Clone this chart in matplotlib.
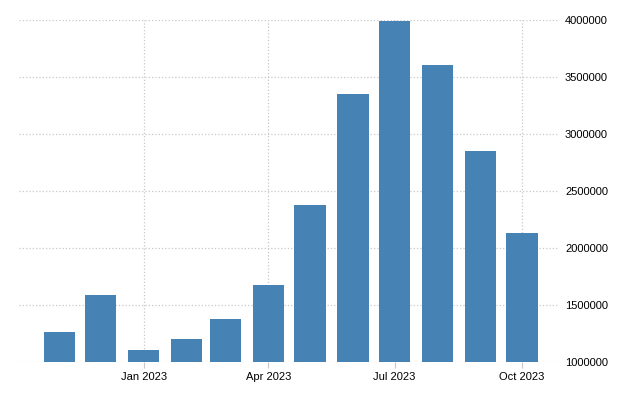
import matplotlib
matplotlib.use("Agg")
import matplotlib.pyplot as plt
import matplotlib.dates as mdates
import datetime as dt

# monthly values, Nov 2022 - Oct 2023
meses = ["2022-11", "2022-12", "2023-01", "2023-02", "2023-03", "2023-04",
         "2023-05", "2023-06", "2023-07", "2023-08", "2023-09", "2023-10"]
valores = [1263000, 1585000, 1103000, 1199000, 1375000, 1673000,
           2376000, 3350000, 3995000, 3605000, 2850000, 2130000]

datas = [dt.datetime.strptime(m, "%Y-%m") for m in meses]

plt.rcParams['font.family'] = ['Liberation Sans', 'DejaVu Sans']

fig = plt.figure(figsize=(6.4, 4.0), dpi=100)
ax = fig.add_axes([0.0297, 0.095, 0.8423, 0.855])

ax.bar(datas, valores, width=22.5, color='#4682b4', zorder=2)

ax.set_ylim(1000000, 4000000)
ax.set_xlim(dt.datetime(2022, 10, 3), dt.datetime(2023, 10, 27))
ax.set_yticks([1000000, 1500000, 2000000, 2500000, 3000000, 3500000, 4000000])
ax.yaxis.tick_right()
ax.yaxis.set_major_formatter(matplotlib.ticker.FuncFormatter(lambda v, p: "%d" % v))

ax.set_xticks([dt.datetime(2023, 1, 1), dt.datetime(2023, 4, 1),
               dt.datetime(2023, 7, 1), dt.datetime(2023, 10, 1)])
ax.xaxis.set_major_formatter(mdates.DateFormatter("%b %Y"))

for s in ax.spines.values():
    s.set_visible(False)

ax.grid(True, linestyle=':', color='#c8c8c8', linewidth=0.9, zorder=0)
ax.tick_params(axis='y', length=0, pad=5, labelsize=8, labelcolor='black')
ax.tick_params(axis='x', length=4, color='#c8c8c8', pad=3, labelsize=8, labelcolor='black')

plt.savefig("out.png", dpi=100)
